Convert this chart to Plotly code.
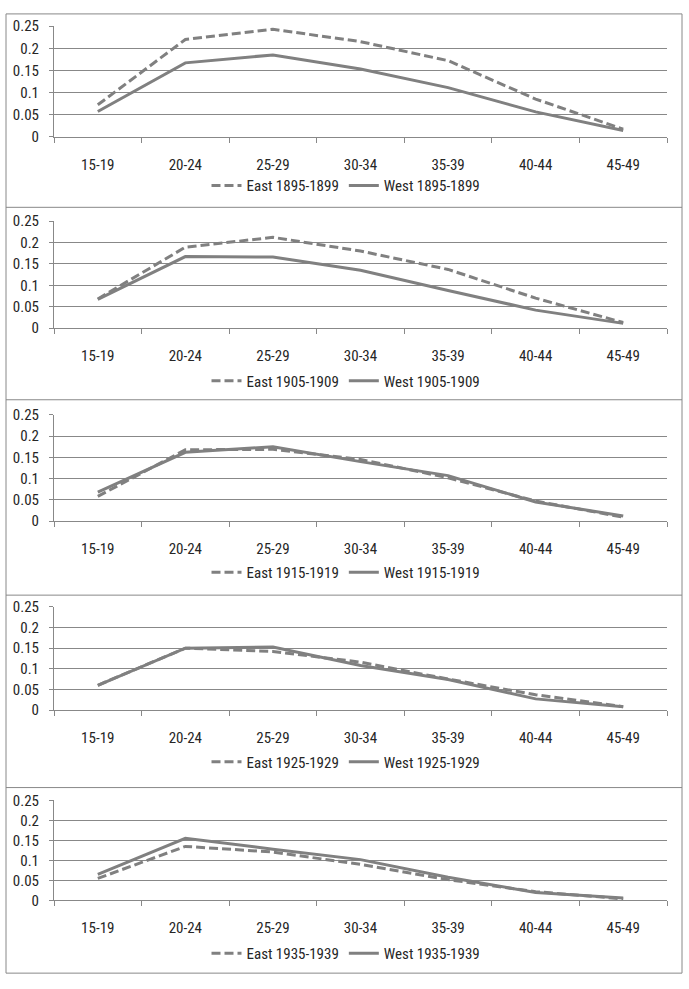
import plotly.graph_objects as go

categories = ["15-19", "20-24", "25-29", "30-34", "35-39", "40-44", "45-49"]
cohorts = ["1895-1899", "1905-1909", "1915-1919", "1925-1929", "1935-1939"]

east_1895 = [0.072, 0.220, 0.243, 0.215, 0.172, 0.085, 0.017]
west_1895 = [0.057, 0.167, 0.185, 0.153, 0.111, 0.056, 0.014]
east_1905 = [0.068, 0.189, 0.212, 0.180, 0.137, 0.070, 0.013]
west_1905 = [0.067, 0.167, 0.166, 0.135, 0.088, 0.042, 0.011]
east_1915 = [0.058, 0.168, 0.169, 0.145, 0.102, 0.047, 0.009]
west_1915 = [0.068, 0.162, 0.175, 0.140, 0.107, 0.045, 0.012]
east_1925 = [0.060, 0.150, 0.142, 0.116, 0.075, 0.037, 0.008]
west_1925 = [0.060, 0.150, 0.153, 0.108, 0.074, 0.027, 0.008]
east_1935 = [0.055, 0.135, 0.121, 0.090, 0.052, 0.022, 0.004]
west_1935 = [0.065, 0.155, 0.128, 0.102, 0.058, 0.020, 0.006]

y_ticks = [0, 0.05, 0.1, 0.15, 0.2, 0.25]
y_tick_labels = ["0", "0.05", "0.1", "0.15", "0.2", "0.25"]

east_series = [east_1895, east_1905, east_1915, east_1925, east_1935]
west_series = [west_1895, west_1905, west_1915, west_1925, west_1935]

W, H = 689, 989
# pixel layout per panel: (plot top, plot bottom, legend y)
panels = [
    (17.5, 130, 180),
    (216, 325, 379),
    (413.5, 521.5, 574),
    (609, 714, 767),
    (806, 908, 962),
]
separators = [202, 398, 597, 793]
box = (6, 682, 5, 982)
x_left, x_right = 54, 667

LINE = "#808080"
AX = "#888888"
FONT = "Liberation Sans Narrow, Arial Narrow, Roboto Condensed, Liberation Sans, sans-serif"
TXT = "#262626"

fig = go.Figure()
layout = {}
for i, (cohort, east, west, (pt, pb, ly)) in enumerate(zip(cohorts, east_series, west_series, panels)):
    n = "" if i == 0 else str(i + 1)
    m = str(i + 6)  # label-only overlay x axis
    xa, ya = "x" + n, "y" + n
    lg = "legend" + n
    fig.add_trace(go.Scatter(x=categories, y=east, mode="lines", name="East " + cohort,
                             line=dict(color=LINE, width=3, dash="9px,4px"),
                             xaxis=xa, yaxis=ya, legend=lg))
    fig.add_trace(go.Scatter(x=categories, y=west, mode="lines", name="West " + cohort,
                             line=dict(color=LINE, width=3),
                             xaxis=xa, yaxis=ya, legend=lg))
    # invisible trace to carry the label axis
    fig.add_trace(go.Scatter(x=categories, y=west, mode="lines", showlegend=False,
                             line=dict(color="rgba(0,0,0,0)", width=0), hoverinfo="skip",
                             xaxis="x" + m, yaxis=ya))
    layout["xaxis" + n] = dict(
        domain=[x_left / W, x_right / W], type="category", range=[-0.5, 6.5],
        anchor=ya, showgrid=False, showline=True, linecolor=AX, linewidth=1,
        ticks="outside", tickson="boundaries", ticklen=5, tickcolor=AX,
        showticklabels=False, fixedrange=True,
    )
    layout["xaxis" + m] = dict(
        domain=[x_left / W, x_right / W], type="category", range=[-0.5, 6.5],
        anchor=ya, overlaying=xa, side="bottom", showgrid=False, showline=False,
        ticks="outside", ticklen=14, tickcolor="rgba(0,0,0,0)",
        tickfont=dict(family=FONT, size=15, color=TXT), fixedrange=True,
    )
    layout["yaxis" + n] = dict(
        domain=[1 - pb / H, 1 - pt / H], range=[0, 0.25], anchor=xa,
        tickvals=y_ticks, ticktext=y_tick_labels, showgrid=True,
        gridcolor=AX, gridwidth=1, zeroline=False, showline=True,
        linecolor=AX, linewidth=1, ticks="outside", ticklen=4, tickcolor=AX,
        ticklabelstandoff=7,
        tickfont=dict(family=FONT, size=15, color=TXT), fixedrange=True,
    )
    layout[lg] = dict(
        orientation="h", x=346 / W, xanchor="center", y=1 - ly / H, yanchor="middle",
        font=dict(family=FONT, size=15, color=TXT), bgcolor="rgba(0,0,0,0)",
        itemwidth=30, tracegroupgap=0,
    )

shapes = [dict(type="rect", xref="paper", yref="paper",
               x0=box[0] / W, x1=box[1] / W, y0=1 - box[3] / H, y1=1 - box[2] / H,
               line=dict(color=AX, width=1), fillcolor="rgba(0,0,0,0)")]
for s in separators:
    shapes.append(dict(type="line", xref="paper", yref="paper",
                       x0=box[0] / W, x1=box[1] / W, y0=1 - s / H, y1=1 - s / H,
                       line=dict(color=AX, width=1)))

fig.update_layout(
    width=W, height=H, margin=dict(l=0, r=0, t=0, b=0),
    paper_bgcolor="white", plot_bgcolor="white", shapes=shapes, **layout,
)
fig.write_html(
    "out.html",
    config={"displayModeBar": False},
    post_script="document.documentElement.style.margin='0';document.body.style.margin='0';"
                "document.body.style.overflow='hidden';",
)
